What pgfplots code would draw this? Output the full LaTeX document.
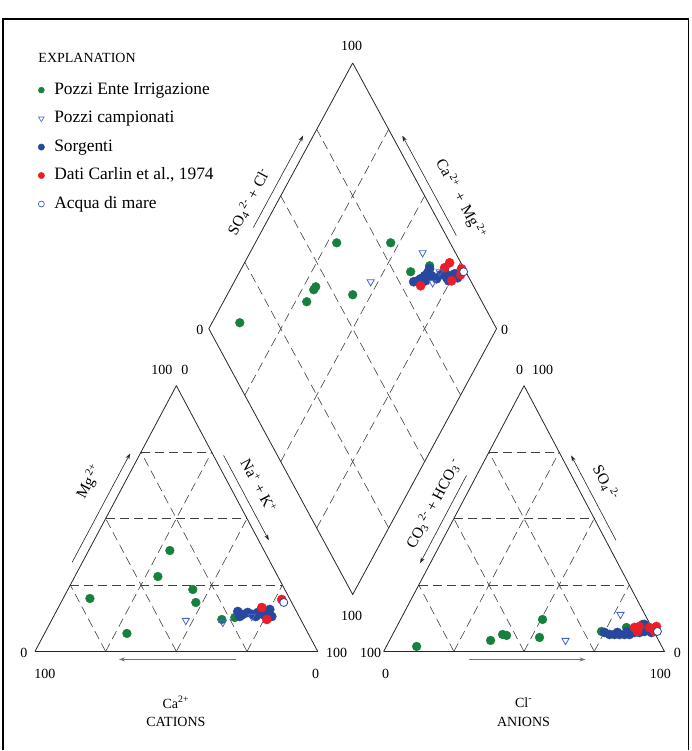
\documentclass[border=0pt]{standalone}
\usepackage{fontspec}
\setmainfont{Liberation Serif}
\usepackage{pgfplots}
\pgfplotsset{compat=1.18}
\usetikzlibrary{arrows.meta}
\definecolor{pgreen}{RGB}{22,128,62}
\definecolor{pblue}{RGB}{40,72,160}
\definecolor{pred}{RGB}{235,30,40}
\definecolor{ptri}{RGB}{70,100,200}
\begin{document}
\begin{tikzpicture}
\begin{axis}[x=1pt, y=1pt, y dir=reverse, xmin=0, xmax=692, ymin=0, ymax=751,
  hide axis, clip=false,
  legend cell align=left,
  legend image code/.code={\path[draw=none,fill=none] (-0.1cm,0cm) rectangle (0.42cm,0cm); \draw[#1] plot coordinates {(0cm,0cm)};},
  legend style={draw=none, fill=none, at={(axis cs:35,79)}, anchor=north west,
    font=\fontsize{17.4}{20}\selectfont, row sep=10.5pt,
    nodes={inner sep=1pt, text height=12pt, text depth=4pt}},
  gridl/.style={black!75, line width=0.6pt, dash pattern=on 9pt off 5pt, forget plot},
  outl/.style={black!85, line width=0.8pt, line join=round, forget plot},
  gpt/.style={only marks, mark=*, mark size=4.4pt, mark options={draw=pgreen, fill=pgreen}, forget plot},
  bpt/.style={only marks, mark=*, mark size=4.6pt, mark options={draw=pblue, fill=pblue}, forget plot},
  rpt/.style={only marks, mark=*, mark size=4.6pt, mark options={draw=pred, fill=pred}, forget plot},
  tpt/.style={only marks, mark=triangle, mark size=4.2pt, mark options={rotate=180, draw=ptri, fill=white, line width=0.8pt}, forget plot},
  wpt/.style={only marks, mark=*, mark size=4pt, mark options={draw=pblue, fill=white, line width=0.8pt}, forget plot},
]
\path (axis cs:0,0) rectangle (axis cs:692,751);
% frame
\draw[black, line width=1.3pt] (axis cs:3,751) -- (axis cs:3,19) -- (axis cs:689,19) -- (axis cs:689,751);

% legend
\addlegendimage{only marks, mark=*, mark size=3pt, mark options={draw=pgreen, fill=pgreen}}
\addlegendentry{Pozzi Ente Irrigazione}
\addlegendimage{only marks, mark=triangle, mark size=3.2pt, mark options={rotate=180, draw=ptri, fill=white, line width=0.6pt}}
\addlegendentry{Pozzi campionati}
\addlegendimage{only marks, mark=*, mark size=3.2pt, mark options={draw=pblue, fill=pblue}}
\addlegendentry{Sorgenti}
\addlegendimage{only marks, mark=*, mark size=3.2pt, mark options={draw=pred, fill=pred}}
\addlegendentry{Dati Carlin et al., 1974}
\addlegendimage{only marks, mark=*, mark size=3pt, mark options={draw=pblue, fill=white, line width=0.6pt}}
\addlegendentry{Acqua di mare}
\node[anchor=west, font=\fontsize{14}{16}\selectfont] at (axis cs:35,58) {EXPLANATION};

% ---------- left triangle (cations)
\addplot[gridl] coordinates {(70.375,585.5) (282.625,585.5)};
\addplot[gridl] coordinates {(105.75,519) (247.25,519)};
\addplot[gridl] coordinates {(141.125,452.5) (211.875,452.5)};
\addplot[gridl] coordinates {(105.75,652) (211.875,452.5)};
\addplot[gridl] coordinates {(176.5,652) (247.25,519)};
\addplot[gridl] coordinates {(247.25,652) (282.625,585.5)};
\addplot[gridl] coordinates {(105.75,652) (70.375,585.5)};
\addplot[gridl] coordinates {(176.5,652) (105.75,519)};
\addplot[gridl] coordinates {(247.25,652) (141.125,452.5)};
\addplot[outl] coordinates {(35,652) (318,652) (176.5,386) (35,652)};

% ---------- right triangle (anions)
\addplot[gridl] coordinates {(419.125,585.5) (629.875,585.5)};
\addplot[gridl] coordinates {(454.25,519) (594.75,519)};
\addplot[gridl] coordinates {(489.375,452.5) (559.625,452.5)};
\addplot[gridl] coordinates {(454.25,652) (559.625,452.5)};
\addplot[gridl] coordinates {(524.5,652) (594.75,519)};
\addplot[gridl] coordinates {(594.75,652) (629.875,585.5)};
\addplot[gridl] coordinates {(454.25,652) (419.125,585.5)};
\addplot[gridl] coordinates {(524.5,652) (454.25,519)};
\addplot[gridl] coordinates {(594.75,652) (489.375,452.5)};
\addplot[outl] coordinates {(384,652) (665,652) (524.5,386) (384,652)};

% ---------- diamond
\addplot[gridl] coordinates {(317,528.5) (461,262.5)};
\addplot[gridl] coordinates {(281,462) (425,196)};
\addplot[gridl] coordinates {(245,395.5) (389,129.5)};
\addplot[gridl] coordinates {(389,528.5) (245,262.5)};
\addplot[gridl] coordinates {(425,462) (281,196)};
\addplot[gridl] coordinates {(461,395.5) (317,129.5)};
\addplot[outl] coordinates {(353,63) (209,329) (353,595) (497,329) (353,63)};

% ---------- arrows
\draw[black!85, line width=0.6pt, -{Stealth[length=6pt,width=4pt]}] (axis cs:72.2,562.8) -- (axis cs:130.3,453.8);
\draw[black!85, line width=0.6pt, -{Stealth[length=6pt,width=4pt]}] (axis cs:223.8,455.8) -- (axis cs:269.1,540.8);
\draw[black!85, line width=0.6pt, -{Stealth[length=6pt,width=4pt]}] (axis cs:466.9,475.8) -- (axis cs:420.4,563.8);
\draw[black!85, line width=0.6pt, -{Stealth[length=6pt,width=4pt]}] (axis cs:616.5,540.8) -- (axis cs:571.6,455.8);
\draw[black!85, line width=0.6pt, -{Stealth[length=6pt,width=4pt]}] (axis cs:253.6,227.7) -- (axis cs:303.4,135.7);
\draw[black!85, line width=0.6pt, -{Stealth[length=6pt,width=4pt]}] (axis cs:456.7,235.7) -- (axis cs:402.6,135.7);
\draw[black!55, line width=1.2pt, -{Stealth[length=6pt,width=4pt]}] (axis cs:236,660) -- (axis cs:119,660);
\draw[black!55, line width=1.2pt, -{Stealth[length=6pt,width=4pt]}] (axis cs:469,660) -- (axis cs:586,660);

% ---------- axis labels
\begin{scope}[font=\fontsize{15.5}{17}\selectfont]
\node[rotate=61.6] at (axis cs:249,202) {SO\textsubscript{4}\textsuperscript{\,2-} + Cl\textsuperscript{-}};
\node[rotate=-61.6] at (axis cs:461,199) {Ca\textsuperscript{\,2+} \,+\, Mg\textsuperscript{\,2+}};
\node[rotate=62] at (axis cs:89,482) {Mg\textsuperscript{\,2+}};
\node[rotate=-62] at (axis cs:259,486) {Na\textsuperscript{+} + K\textsuperscript{+}};
\node[rotate=62] at (axis cs:434,504) {CO\textsubscript{3}\textsuperscript{\,2-} + HCO\textsubscript{3}\textsuperscript{\,-}};
\node[rotate=-62] at (axis cs:606,483) {SO\textsubscript{4}\textsuperscript{\,2-}};
\end{scope}
\begin{scope}[font=\fontsize{14}{16}\selectfont]
\node at (axis cs:352,46) {100};
\node at (axis cs:200,330) {0};
\node at (axis cs:505,330) {0};
\node at (axis cs:352,616) {100};
\node at (axis cs:162,370) {100};
\node at (axis cs:185,370) {0};
\node at (axis cs:520,370) {0};
\node at (axis cs:543,370) {100};
\node at (axis cs:24,653) {0};
\node at (axis cs:337,653) {100};
\node at (axis cs:45,674) {100};
\node at (axis cs:316,674) {0};
\node at (axis cs:371,653) {100};
\node at (axis cs:386,674) {0};
\node at (axis cs:678,653) {0};
\node at (axis cs:661,674) {100};
\node at (axis cs:176,703) {Ca\textsuperscript{2+}};
\node at (axis cs:176,723) {CATIONS};
\node at (axis cs:524,703) {Cl\textsuperscript{-}};
\node at (axis cs:524,723) {ANIONS};
\end{scope}

% ---------- data: Pozzi Ente Irrigazione
\addplot[gpt] coordinates {(337,243) (391,243) (316,287) (314,290) (307,302) (353,295) (240,323) (411,272) (430,266)
 (170,551) (158,577) (193,590) (196,603) (90,599) (127,634) (222,620) (235,618)
 (417,647) (491,641) (503,635) (507,636) (543,620) (540,638) (602,632) (627,628) (643,625)};
% Sorgenti
\addplot[bpt] coordinates {(414,282) (418,281) (421,279) (425,276) (428,273) (430,269) (432,276) (426,281) (441,275) (445,272) (447,278) (451,276) (455,274) (458,278) (449,281) (437,279)
 (238,612) (243,615) (248,613) (253,615) (258,613) (263,615) (268,613) (272,617) (267,618) (240,617) (256,617) (261,611) (270,610)
 (605,633) (610,635) (615,635) (620,635) (625,635) (630,635) (635,633) (640,633) (645,632) (648,630) (645,625) (652,633) (618,633) (628,632)};
% Dati Carlin et al., 1974
\addplot[rpt] coordinates {(450,263) (421,286) (452,281) (462,269) (461,275) (445,268)
 (262,608) (267,620) (282,600)
 (635,628) (640,627) (650,628) (657,627) (655,632) (638,632)};
% Pozzi campionati
\addplot[tpt] coordinates {(371,282) (423,253) (440,272) (433,283) (186,621) (223,623) (252,617) (566,641) (621,615)};
% Acqua di mare
\addplot[wpt] coordinates {(464,272) (284,603) (658,632)};
\end{axis}
\end{tikzpicture}
\end{document}
